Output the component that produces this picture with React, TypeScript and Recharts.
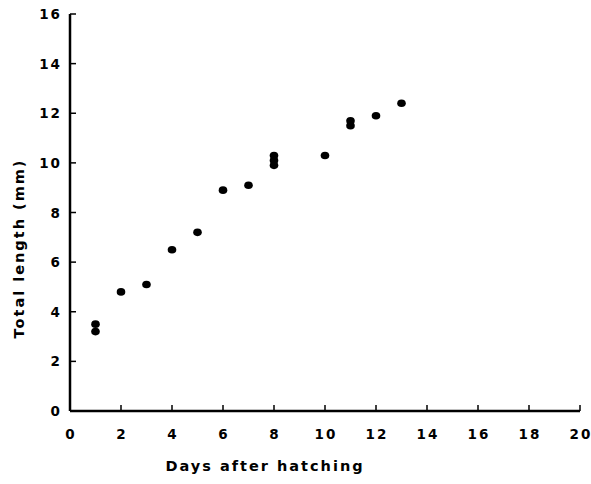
import { ScatterChart, Scatter, XAxis, YAxis } from 'recharts';

// days after hatching and total length (mm)
const days = [1, 1, 2, 3, 4, 5, 6, 7, 8, 8, 8, 10, 11, 11, 12, 13];
const lengths = [3.5, 3.2, 4.8, 5.1, 6.5, 7.2, 8.9, 9.1, 10.3, 10.1, 9.9, 10.3, 11.7, 11.5, 11.9, 12.4];

const xTicks = [0, 2, 4, 6, 8, 10, 12, 14, 16, 18, 20];
const yTicks = [0, 2, 4, 6, 8, 10, 12, 14, 16];

const data = days.map((d, i) => ({ day: d, len: lengths[i] }));

const font = '"DejaVu Sans", sans-serif';

// recharts hands the tick 8px off the axis (tickSize 6 + margin 2), ticks point inward
const XTick = (props: any) => {
  const { x, y, payload } = props;
  return (
    <g>
      {payload.value !== 0 && (
        <line x1={x} x2={x} y1={y - 8} y2={y - 14} stroke="#000" strokeWidth={1.5} />
      )}
      <text x={x + 1} y={y + 20} textAnchor="middle" fontFamily={font} fontWeight="bold"
        fontSize={13.5} fill="#000" letterSpacing={2}>
        {payload.value}
      </text>
    </g>
  );
};

const YTick = (props: any) => {
  const { x, y, payload } = props;
  return (
    <g>
      {payload.value !== 0 && (
        <line x1={x + 8} x2={x + 14} y1={y} y2={y} stroke="#000" strokeWidth={1.5} />
      )}
      <text x={x} y={y + 5} textAnchor="end" fontFamily={font} fontWeight="bold"
        fontSize={13.5} fill="#000" letterSpacing={2}>
        {payload.value}
      </text>
    </g>
  );
};

const YTitle = (props: any) => {
  const { viewBox } = props;
  const cx = viewBox.x + 24;
  const cy = viewBox.y + viewBox.height / 2 + 36;
  return (
    <text x={cx} y={cy} transform={`rotate(-90, ${cx}, ${cy})`} textAnchor="middle"
      fontFamily={font} fontWeight="bold" fontSize={14.5} fill="#000" letterSpacing={2}>
      Total length (mm)
    </text>
  );
};

const XTitle = (props: any) => {
  const { viewBox } = props;
  const cx = viewBox.x + viewBox.width / 2 - 60;
  return (
    <text x={cx} y={viewBox.y + 60} textAnchor="middle" fontFamily={font} fontWeight="bold"
      fontSize={14.5} fill="#000" letterSpacing={2}>
      Days  after  hatching
    </text>
  );
};

export default function App() {
  return (
    <div style={{ position: 'fixed', left: 0, top: 0, width: 591, height: 484, background: '#fff' }}>
      <ScatterChart width={591} height={484} margin={{ top: 14, right: 11, bottom: 0, left: 0 }}>
        <XAxis type="number" dataKey="day" domain={[0, 20]} ticks={xTicks} height={73}
          axisLine={{ stroke: '#000', strokeWidth: 2.5 }} tickLine={false} tick={<XTick />}
          label={<XTitle />} />
        <YAxis type="number" dataKey="len" domain={[0, 16]} ticks={yTicks} width={70}
          axisLine={{ stroke: '#000', strokeWidth: 2.5 }} tickLine={false} tick={<YTick />}
          label={<YTitle />} />
        <Scatter data={data} fill="#000" isAnimationActive={false}
          shape={(p: any) => <ellipse cx={p.cx} cy={p.cy} rx={4.3} ry={3.8} fill="#000" />} />
      </ScatterChart>
    </div>
  );
}
